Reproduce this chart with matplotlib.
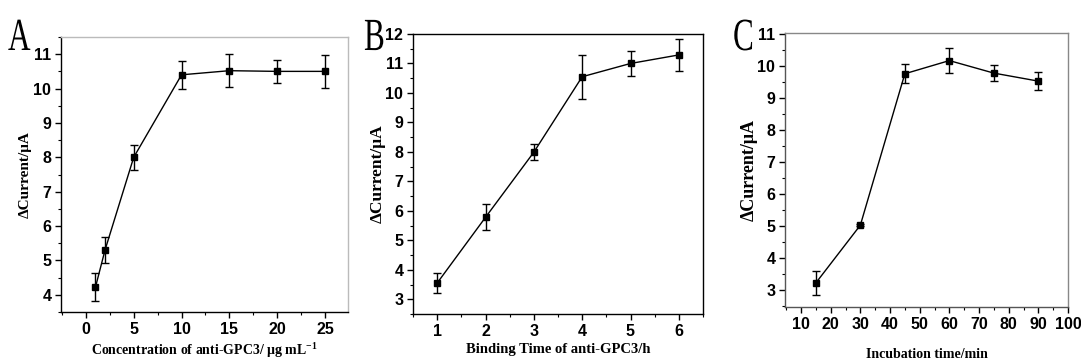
import matplotlib.pyplot as plt
import matplotlib.transforms as mtransforms
from matplotlib.textpath import TextPath
from matplotlib.patches import PathPatch
from matplotlib.font_manager import FontProperties
from matplotlib.ticker import MultipleLocator

# panel A: concentration of anti-GPC3
conc = [1, 2, 5, 10, 15, 20, 25]
conc_y = [4.22, 5.30, 8.00, 10.40, 10.52, 10.50, 10.50]
conc_err = [0.41, 0.38, 0.37, 0.41, 0.48, 0.33, 0.49]

# panel B: binding time
bind_t = [1, 2, 3, 4, 5, 6]
bind_y = [3.55, 5.78, 7.99, 10.55, 11.00, 11.29]
bind_err = [0.34, 0.44, 0.28, 0.75, 0.43, 0.55]

# panel C: incubation time
inc_t = [15, 30, 45, 60, 75, 90]
inc_y = [3.23, 5.03, 9.75, 10.16, 9.77, 9.52]
inc_err = [0.38, 0.03, 0.30, 0.38, 0.26, 0.28]

plt.rcParams["mathtext.fontset"] = "custom"
plt.rcParams["mathtext.rm"] = "Liberation Serif:bold"
plt.rcParams["mathtext.it"] = "Liberation Serif:bold"
plt.rcParams["mathtext.bf"] = "Liberation Serif:bold"

tick_font = ["Liberation Sans", "DejaVu Sans"]
label_font = "Liberation Serif"

fig = plt.figure(figsize=(10.81, 3.64), dpi=100)

W, H = 1081, 364


def px_axes(l, r, t, b):
    return fig.add_axes([l / W, (H - b) / H, (r - l) / W, (b - t) / H])


def style(ax, spine_col, xmaj, xmin, ymaj=1, ymin=0.5):
    for s in ["left", "bottom"]:
        ax.spines[s].set_color(spine_col[0])
    for s in ["top", "right"]:
        ax.spines[s].set_color(spine_col[1])
    for s in ax.spines.values():
        s.set_linewidth(1.0)
    ax.xaxis.set_major_locator(MultipleLocator(xmaj))
    ax.xaxis.set_minor_locator(MultipleLocator(xmin))
    ax.yaxis.set_major_locator(MultipleLocator(ymaj))
    ax.yaxis.set_minor_locator(MultipleLocator(ymin))
    ax.tick_params(which="major", direction="out", length=4, width=1,
                   top=False, right=False, pad=3)
    ax.tick_params(which="minor", direction="out", length=2, width=0.8,
                   top=False, right=False)
    for lab in ax.get_xticklabels() + ax.get_yticklabels():
        lab.set_fontfamily(tick_font)
        lab.set_fontweight("bold")
        lab.set_fontsize(11.5)


def plot_panel(ax, x, y, e):
    ax.errorbar(x, y, yerr=e, color="black", lw=1.0, marker="s", ms=4.5,
                capsize=3, elinewidth=1.0, capthick=1.0)


def letter(ch, x, y):
    tp = TextPath((0, 0), ch, size=40, prop=FontProperties(family=label_font))
    tr = mtransforms.Affine2D().scale(0.78 / 100, 1.15 / 100).translate(x / 100, (H - y) / 100)
    fig.add_artist(PathPatch(tp, transform=tr + fig.dpi_scale_trans,
                             facecolor="black", edgecolor="none"))


# A
axA = px_axes(61, 348, 37, 312)
plot_panel(axA, conc, conc_y, conc_err)
axA.set_xlim(-2.6, 27.4)
axA.set_ylim(3.5, 11.5)
style(axA, ("black", "#bbbbbb"), 5, 2.5)
axA.set_xlabel("Concentration of anti-GPC3/ μg mL$^{-1}$", fontfamily=label_font,
               fontweight="bold", fontsize=10, labelpad=3)
axA.set_ylabel("ΔCurrent/μA", fontfamily=label_font, fontweight="bold",
               fontsize=11, labelpad=1)

# B
axB = px_axes(413, 703, 34, 314)
plot_panel(axB, bind_t, bind_y, bind_err)
axB.set_xlim(0.5, 6.5)
axB.set_ylim(2.5, 12)
style(axB, ("black", "black"), 1, 0.5)
axB.set_xlabel("Binding Time of anti-GPC3/h", fontfamily=label_font,
               fontweight="bold", fontsize=10.5, labelpad=3)
axB.set_ylabel("ΔCurrent/μA", fontfamily=label_font, fontweight="bold",
               fontsize=12.5, labelpad=0)

# C
axC = px_axes(785, 1068, 33, 307)
plot_panel(axC, inc_t, inc_y, inc_err)
axC.set_xlim(4.6, 100)
axC.set_ylim(2.48, 11.02)
style(axC, ("#555555", "#888888"), 10, 5)
axC.set_xlabel("Incubation time/min", fontfamily=label_font,
               fontweight="bold", fontsize=10, labelpad=12)
axC.set_ylabel("ΔCurrent/μA", fontfamily=label_font, fontweight="bold",
               fontsize=13, labelpad=0)

letter("A", 8, 50)
letter("B", 364, 50)
letter("C", 733, 50)

fig.savefig("out.png", dpi=100)
